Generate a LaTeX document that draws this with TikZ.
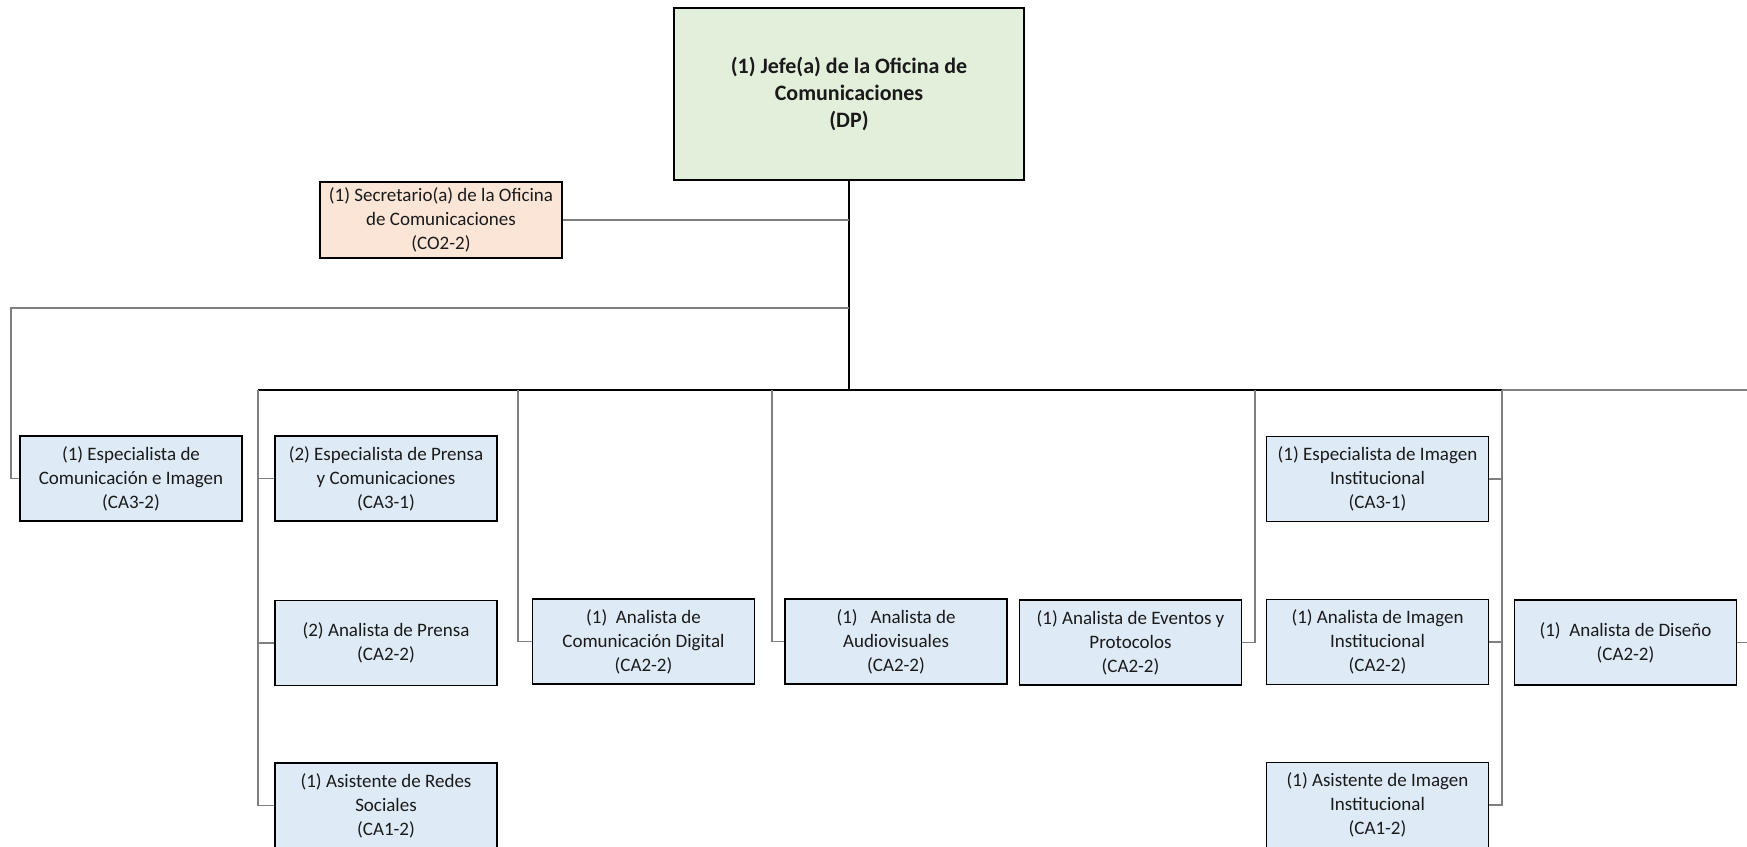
\documentclass[tikz,border=0pt]{standalone}
\usepackage{fontspec}
\setmainfont{Carlito}
\definecolor{boxblue}{HTML}{DEEBF7}
\definecolor{boxgreen}{HTML}{E2EFDA}
\definecolor{boxpeach}{HTML}{FBE5D6}
\definecolor{linegray}{HTML}{7F7F7F}
\definecolor{txt}{HTML}{1A1A1A}
\begin{document}
\begin{tikzpicture}[x=1pt,y=-1pt,
  unit/.style={draw=black, line width=1.6pt, fill=boxblue, minimum width=222pt, minimum height=85pt,
    inner sep=2pt, align=center, font=\fontsize{19}{24}\selectfont, text=txt},
  conn/.style={draw=linegray, line width=1.2pt},
  trunk/.style={draw=black, line width=1.6pt}]
\useasboundingbox (0,0) rectangle (1747,846);
\fill[white] (0,0) rectangle (1747,846);

% junction coordinates
\coordinate (busC) at (849,390);
\coordinate (bA) at (258,390);
\coordinate (bB) at (518,390);
\coordinate (bC) at (772,390);
\coordinate (bD) at (1255,390);
\coordinate (bE) at (1502,390);
\coordinate (bR) at (1747,390);
\coordinate (lb) at (11,308);

% nodes
\node[unit, fill=boxgreen, minimum width=350pt, minimum height=172pt,
  font=\bfseries\fontsize{22}{27}\selectfont] (jefe) at (849,94)
  {(1) Jefe(a) de la Oficina de\\Comunicaciones\\(DP)};
\node[unit, fill=boxpeach, minimum width=242pt, minimum height=76pt] (sec) at (441,220)
  {(1) Secretario(a) de la Oficina\\de Comunicaciones\\(CO2-2)};

\node[unit] (espcom) at (131,478.5) {(1) Especialista de\\Comunicación e Imagen\\(CA3-2)};
\node[unit] (espprensa) at (386,478.5) {(2) Especialista de Prensa\\y Comunicaciones\\(CA3-1)};
\node[unit] (anprensa) at (386,643) {(2) Analista de Prensa\\(CA2-2)};
\node[unit] (asisredes) at (386,805.5) {(1) Asistente de Redes\\Sociales\\(CA1-2)};
\node[unit] (comdig) at (643.5,641.5) {(1)\ \ Analista de\\Comunicación Digital\\(CA2-2)};
\node[unit] (audio) at (896,641.5) {(1)\ \ \ Analista de\\Audiovisuales\\(CA2-2)};
\node[unit] (eventos) at (1130.5,642.5) {(1) Analista de Eventos y\\Protocolos\\(CA2-2)};
\node[unit] (espimg) at (1377.5,479) {(1) Especialista de Imagen\\Institucional\\(CA3-1)};
\node[unit] (animg) at (1377.5,642) {(1) Analista de Imagen\\Institucional\\(CA2-2)};
\node[unit] (asisimg) at (1377.5,805) {(1) Asistente de Imagen\\Institucional\\(CA1-2)};
\node[unit] (diseno) at (1625.5,642.5) {(1)\ \ Analista de Diseño\\(CA2-2)};

% connectors
\draw[trunk] (jefe.south) -- (busC);
\draw[conn] (sec.east) -- (sec.east -| busC);
\draw[conn] (busC |- lb) -- (lb) |- (espcom.west);
\draw[trunk] (bA) -- (bE);
\draw[conn] (bE) -- (bR);

\draw[conn] (bA) |- (asisredes.west);
\draw[conn] (bA |- espprensa.west) -- (espprensa.west);
\draw[conn] (bA |- anprensa.west) -- (anprensa.west);

\draw[conn] (bB) |- (comdig.west);
\draw[conn] (bC) |- (audio.west);
\draw[conn] (bD) |- (eventos.east);

\draw[conn] (bE) |- (asisimg.east);
\draw[conn] (bE |- espimg.east) -- (espimg.east);
\draw[conn] (bE |- animg.east) -- (animg.east);

\draw[conn] (diseno.east) -- (diseno.east -| bR);
\end{tikzpicture}
\end{document}
